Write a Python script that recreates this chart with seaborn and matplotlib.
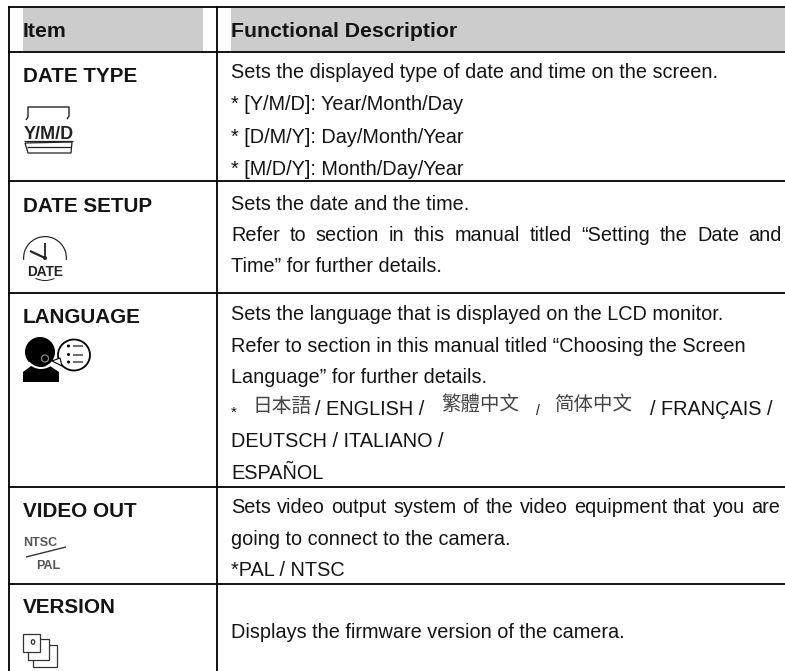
import matplotlib
matplotlib.use("Agg")
import matplotlib.pyplot as plt
from matplotlib.patches import Circle, Ellipse, Rectangle, Polygon, Wedge
import seaborn as sns

# table content
header_items = ["Item", "Functional Descriptior"]
row_names = ["DATE TYPE", "DATE SETUP", "LANGUAGE", "VIDEO OUT", "VERSION"]
date_type_lines = ["Sets the displayed type of date and time on the screen.",
                   "* [Y/M/D]: Year/Month/Day",
                   "* [D/M/Y]: Day/Month/Year",
                   "* [M/D/Y]: Month/Day/Year"]
date_setup_lines = ["Sets the date and the time.",
                    "Refer to section in this manual titled \u201cSetting the Date and",
                    "Time\u201d for further details."]
language_lines = ["Sets the language that is displayed on the LCD monitor.",
                  "Refer to section in this manual titled \u201cChoosing the Screen",
                  "Language\u201d for further details."]
language_tail = ["DEUTSCH / ITALIANO /", "ESPA\u00d1OL"]
video_lines = ["Sets video output system of the video equipment that you are",
               "going to connect to the camera.",
               "*PAL / NTSC"]
version_lines = ["Displays the firmware version of the camera."]
cjk_names = ["\u65e5\u672c\u8a9e", "\u7e41\u9ad4\u4e2d\u6587", "\u7b80\u4f53\u4e2d\u6587"]

# layout in pixels
W, H = 785, 671
COL_X = 217
LEFT_X = 9
ROW_Y = [7, 52, 181, 293, 487, 584]
BODY = 14.3
NAME = 14.9
HEAD = 15.3
TEXT = "#141414"

sns.set_theme(style="white")
plt.rcParams["font.family"] = ["Liberation Sans", "Noto Sans CJK TC", "DejaVu Sans"]

fig = plt.figure(figsize=(W / 100, H / 100), dpi=100)
ax = fig.add_axes([0, 0, 1, 1])
ax.set_xlim(0, W)
ax.set_ylim(H, 0)
ax.axis("off")

# header shading
ax.add_patch(Rectangle((23, 8), 180, 43, color="#cccccc", lw=0))
ax.add_patch(Rectangle((231, 8), W - 231, 43, color="#cccccc", lw=0))

# grid
for y in ROW_Y:
    ax.plot([LEFT_X - 1, W], [y, y], color="black", lw=1.3, solid_capstyle="butt")
ax.plot([LEFT_X, LEFT_X], [6, H], color="black", lw=1.3, solid_capstyle="butt")
ax.plot([COL_X, COL_X], [6, H], color="black", lw=1.3, solid_capstyle="butt")


def put(x, y, s, size=BODY, weight="normal", color=TEXT, **kw):
    return ax.text(x, y, s, fontsize=size, fontweight=weight, color=color,
                   va="baseline", ha=kw.pop("ha", "left"), **kw)


def justified(x, y, s, right):
    # spread the words so the line ends at right
    words = s.split(" ")
    r = fig.canvas.get_renderer()
    widths = []
    for w in words:
        t = put(x, y, w)
        widths.append(t.get_window_extent(r).width)
        t.remove()
    gap = (right - x - sum(widths)) / (len(words) - 1)
    for w, wd in zip(words, widths):
        put(x, y, w)
        x += wd + gap


put(23, 37, header_items[0], size=HEAD, weight="bold")
put(231, 37, header_items[1], size=HEAD, weight="bold")

name_y = [82, 212, 323, 517, 613]
for name, y in zip(row_names, name_y):
    put(23, y, name, size=NAME, weight="bold")

body_x = 231
for s, y in zip(date_type_lines, [78, 110, 143, 175]):
    put(body_x, y, s)
put(body_x, 210, date_setup_lines[0])
justified(body_x, 241, date_setup_lines[1], 782)
put(body_x, 272, date_setup_lines[2])
for s, y in zip(language_lines, [320, 352, 383]):
    put(body_x, y, s)
put(body_x, 417, "*", size=11)
put(253, 412, cjk_names[0], size=14.2, color="#444444", family=["Noto Sans CJK JP", "DejaVu Sans"])
put(315, 415, "/ ENGLISH /")
put(441, 410, cjk_names[1], size=14, color="#444444", family=["Noto Sans CJK TC", "DejaVu Sans"])
put(536, 415, "/", size=10)
put(554, 410, cjk_names[2], size=14, color="#444444", family=["Noto Sans CJK SC", "DejaVu Sans"])
put(650, 415, "/ FRAN\u00c7AIS /")
for s, y in zip(language_tail, [447, 479]):
    put(body_x, y, s)
justified(body_x, 513, video_lines[0], 780)
put(body_x, 545, video_lines[1])
put(body_x, 576, video_lines[2])
put(body_x, 638, version_lines[0])


def line(xs, ys, lw=1.0, c="#222222"):
    ax.plot(xs, ys, color=c, lw=lw, solid_capstyle="butt")


# Y/M/D icon
line([26, 28, 28, 69, 69, 67], [120, 117, 107, 107, 116, 119], 1.0)
ax.text(48.5, 139, "Y/M/D", fontsize=13, fontweight="bold", color="#222222", ha="center", va="baseline")
line([24, 73], [141, 141], 0.9)
line([25, 72, 71, 28, 25], [143, 142, 153, 153, 143], 0.9)
line([27, 71], [147, 147], 0.9)

# clock icon
ax.add_patch(Wedge((45, 258), 22, 175, 5, width=1.2, color="#222222", lw=0))
ax.add_patch(Wedge((45, 258), 23, 65, 115, width=1.0, color="#222222", lw=0))
line([45, 45], [243, 258], 1.3)
line([30, 45], [251, 258], 1.6)
ax.add_patch(Circle((45, 258), 2, color="#222222", lw=0))
ax.text(45.5, 276, "DATE", fontsize=9.8, fontweight="bold", color="#222222", ha="center", va="baseline")

# language icon
ax.add_patch(Circle((40, 352), 15, color="black", lw=0))
ax.add_patch(Polygon([(23, 382), (59, 382), (59, 372), (50, 366), (31, 366), (23, 372)], color="black", lw=0))
ax.add_patch(Wedge((41, 352), 17, 40, 140, width=2, color="white", lw=0))
ax.add_patch(Circle((45, 358.5), 3.5, fc="none", ec="#888888", lw=0.9))
ax.add_patch(Ellipse((74, 355), 32, 31, fc="white", ec="black", lw=1.3))
ax.add_patch(Polygon([(52, 361), (60, 358), (62, 366)], fc="white", ec="black", lw=0.8))
for yy in [346, 354.5, 362]:
    ax.add_patch(Circle((68.5, yy), 1.5, color="black", lw=0))
    line([73, 83], [yy, yy], 1.2, c="#555555")

# NTSC/PAL icon
ax.text(23, 546, "NTSC", fontsize=9, fontweight="bold", color="#555555", va="baseline", ha="left")
line([26, 66], [557, 547], 1.0, c="#333333")
ax.text(36, 569, "PAL", fontsize=9, fontweight="bold", color="#555555", va="baseline", ha="left")

# version icon
ax.add_patch(Rectangle((33, 645), 24, 22, fc="white", ec="#333333", lw=0.9))
ax.add_patch(Rectangle((28, 639), 21, 21, fc="white", ec="#333333", lw=0.9))
ax.add_patch(Rectangle((23, 634), 17, 18, fc="white", ec="#333333", lw=0.9))
ax.add_patch(Ellipse((33, 642), 3.5, 4.5, fc="none", ec="#333333", lw=0.9))

fig.savefig("out.png", dpi=100)
